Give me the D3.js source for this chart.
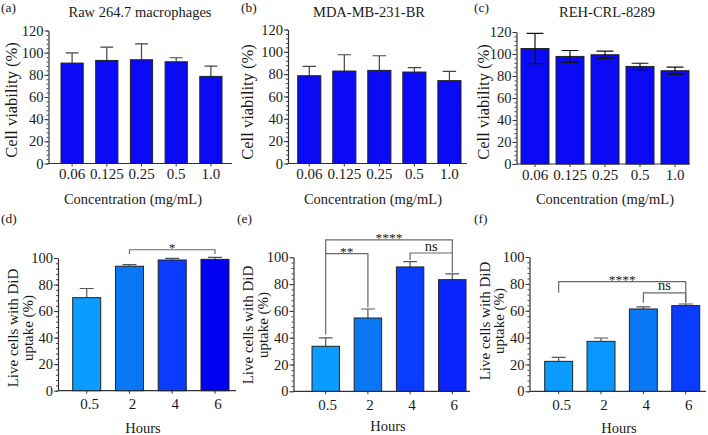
<!DOCTYPE html>
<html>
<head>
<meta charset="utf-8">
<script src="https://cdn.jsdelivr.net/npm/d3@7"></script>
<style>
  body { margin: 0; background: #fff; }
  text { font-family: "Liberation Serif", "DejaVu Serif", serif; fill: #1a1a1a; }
</style>
</head>
<body>
<svg id="chart" width="708" height="435"></svg>
<script>
// ---- data ----
const concLabels = ["0.06", "0.125", "0.25", "0.5", "1.0"];
const hourLabels = ["0.5", "2", "4", "6"];
const viabTicks = [0, 20, 40, 60, 80, 100, 120];
const uptakeTicks = [0, 20, 40, 60, 80, 100];

const rawMean = [90.6, 93, 93.6, 91.8, 78.6];
const rawErr = [9.3, 12, 14.4, 3.6, 9.3];
const mdaMean = [78.6, 82.8, 83.4, 81.9, 74.2];
const mdaErr = [8.4, 14.6, 13.1, 3.9, 8.3];
const rehMean = [105, 97.8, 99.3, 88.7, 84.8];
const rehErr = [13.8, 5.4, 3.4, 2.9, 3.3];

const dMean = [70.1, 93.8, 98.5, 99];
const dErr = [6.9, 1.2, 1.2, 1.5];
const eMean = [33.6, 54.7, 92.8, 83.3];
const eErr = [6.2, 6.7, 4, 4.3];
const fMean = [22.3, 37.2, 61.3, 63.8];
const fErr = [3, 2.5, 1.5, 1.2];

// significance brackets: from/to bar index, top value, leg end values, label
const dSig = [{ from: 1, to: 3, top: 106.2, l: 103, r: 103, label: "*" }];
const eSig = [
  { from: 0, to: 1, top: 102.7, l: 42.3, r: 62.7, label: "**" },
  { from: 0, to: 3, top: 113, l: 102.7, r: 103.2, label: "****" },
  { from: 2, to: 3, top: 103.2, l: 98, r: 88.5, label: "ns" }
];
const fSig = [
  { from: 0, to: 3, top: 81.7, l: 73.5, r: 66, label: "****" },
  { from: 2, to: 3, top: 73.3, l: 66, r: 66, label: "ns" }
];

const topBlue = "#0a0af5";
const dColors = ["#0a9cff", "#0a78f5", "#0a3cff", "#0000f0"];
const eColors = ["#0a9cff", "#0a78f5", "#0a3cff", "#0a24ff"];
const fColors = ["#0a9cff", "#0a96ff", "#0a78f5", "#0a3cff"];

const svg = d3.select("#chart");
const FONT = '"Liberation Serif", serif';

function drawPanel(p) {
  const g = svg.append("g");

  const x = d3.scaleBand()
    .domain(p.cats)
    .range([p.b0, p.b1])
    .paddingInner(p.pad)
    .paddingOuter(0);

  const y = d3.scaleLinear()
    .domain([0, p.yMax])
    .range([p.y0, p.yTop]);

  // minor ticks
  g.append("g")
    .attr("transform", `translate(${p.ax},0)`)
    .call(d3.axisLeft(y).tickValues(d3.range(0, p.yMax + 0.1, 4)).tickSize(2).tickSizeOuter(0).tickFormat(""))
    .call((a) => a.select(".domain").remove())
    .selectAll("line").attr("stroke", "#444");

  // y axis
  const yAxis = g.append("g")
    .attr("transform", `translate(${p.ax},0)`)
    .call(d3.axisLeft(y).tickValues(p.ticks).tickSize(4).tickSizeOuter(0).tickPadding(1));
  yAxis.select(".domain").attr("stroke", "#333").attr("stroke-width", 1.2);
  yAxis.selectAll("line").attr("stroke", "#333");
  yAxis.selectAll("text")
    .attr("font-size", 14.5)
    .style("font-family", FONT)
    .attr("fill", "#1a1a1a");

  // x axis
  g.append("line")
    .attr("x1", p.ax).attr("x2", p.axEnd)
    .attr("y1", p.y0).attr("y2", p.y0)
    .attr("stroke", "#333").attr("stroke-width", 1.2);

  const xAxis = g.append("g")
    .attr("transform", `translate(0,${p.y0})`)
    .call(d3.axisBottom(x).tickSize(3).tickSizeOuter(0).tickPadding(p.tickPad));
  xAxis.select(".domain").remove();
  xAxis.selectAll("line").attr("stroke", "#333");
  xAxis.selectAll("text")
    .attr("font-size", 15)
    .attr("dx", p.labelDx || 0)
    .style("font-family", FONT)
    .attr("fill", "#1a1a1a");

  // error bars (drawn under bars so the lower half hides for one-sided)
  const bw = x.bandwidth();
  const cap = bw * p.capFrac;
  const rows = p.cats.map((c, i) => ({ c, v: p.mean[i], e: p.err[i], col: p.colors[i] }));

  if (!p.twoSided) {
    g.selectAll(".eb").data(rows).enter().append("path")
      .attr("d", (d) => {
        const cx = x(d.c) + bw / 2;
        return `M${cx},${y(d.v)}V${y(d.v + d.e)}M${cx - cap / 2},${y(d.v + d.e)}H${cx + cap / 2}`;
      })
      .attr("stroke", p.errColor).attr("stroke-width", 1.2).attr("fill", "none");
  }

  g.selectAll(".bar").data(rows).enter().append("rect")
    .attr("x", (d) => x(d.c))
    .attr("y", (d) => y(d.v))
    .attr("width", bw)
    .attr("height", (d) => p.y0 - y(d.v))
    .attr("fill", (d) => d.col)
    .attr("stroke", "#222")
    .attr("stroke-width", 1);

  if (p.twoSided) {
    g.selectAll(".eb").data(rows).enter().append("path")
      .attr("d", (d) => {
        const cx = x(d.c) + bw / 2;
        const hi = y(d.v + d.e), lo = y(d.v - d.e);
        return `M${cx},${lo}V${hi}M${cx - cap / 2},${hi}H${cx + cap / 2}M${cx - cap / 2},${lo}H${cx + cap / 2}`;
      })
      .attr("stroke", p.errColor).attr("stroke-width", 1.2).attr("fill", "none");
  }

  // significance brackets
  (p.sig || []).forEach((s) => {
    const xl = x(p.cats[s.from]) + bw / 2;
    const xr = x(p.cats[s.to]) + bw / 2;
    g.append("path")
      .attr("d", `M${xl},${y(s.l)}V${y(s.top)}H${xr}V${y(s.r)}`)
      .attr("stroke", "#6a6a6a").attr("stroke-width", 1.2).attr("fill", "none");
    const isNs = s.label === "ns";
    g.append("text")
      .attr("x", (xl + xr) / 2)
      .attr("y", y(s.top) + (isNs ? -2.5 : 2.5))
      .attr("text-anchor", "middle")
      .attr("font-size", isNs ? 14.5 : 13.5)
      .attr("fill", "#555")
      .text(s.label);
  });

  // y label
  const yl = g.append("text")
    .attr("transform", `translate(${p.ylx},${p.yly}) rotate(-90)`)
    .attr("text-anchor", "middle")
    .attr("font-size", p.ylSize);
  p.yLabel.forEach((line, i) => {
    yl.append("tspan").attr("x", 0).attr("dy", i === 0 ? 5 : 14.5).text(line);
  });

  // x label
  g.append("text")
    .attr("x", p.xlx).attr("y", p.xly)
    .attr("text-anchor", "middle")
    .attr("font-size", 14.5)
    .text(p.xLabel);

  // title
  if (p.title) {
    g.append("text")
      .attr("x", p.tx).attr("y", 17)
      .attr("text-anchor", "middle")
      .attr("font-size", 14.5)
      .text(p.title);
  }

  // panel letter
  g.append("text")
    .attr("x", p.lx).attr("y", p.ly)
    .attr("font-size", 13.5)
    .text(p.letter);
}

const viabLabel = ["Cell viability (%)"];
const uptakeLabel = ["Live cells with DiD", "uptake (%)"];

drawPanel({
  cats: concLabels, mean: rawMean, err: rawErr, colors: concLabels.map(() => topBlue),
  yMax: 120, ticks: viabTicks, y0: 163.5, yTop: 30.5, ax: 48.5, axEnd: 232,
  b0: 61, b1: 222, pad: 0.36, capFrac: 0.58, tickPad: 2, errColor: "#444",
  ylx: 12, yly: 100, ylSize: 16.5, yLabel: viabLabel, xlx: 133, xly: 204, xLabel: "Concentration (mg/mL)",
  title: "Raw 264.7 macrophages", tx: 140, letter: "(a)", lx: 1, ly: 12
});
drawPanel({
  cats: concLabels, mean: mdaMean, err: mdaErr, colors: concLabels.map(() => topBlue),
  yMax: 120, ticks: viabTicks, y0: 163.5, yTop: 29.5, ax: 288, axEnd: 467,
  b0: 297.7, b1: 461, pad: 0.34, capFrac: 0.58, tickPad: 2, errColor: "#444",
  ylx: 248, yly: 102, ylSize: 16.5, yLabel: viabLabel, xlx: 373, xly: 204, xLabel: "Concentration (mg/mL)",
  title: "MDA-MB-231-BR", tx: 369, letter: "(b)", lx: 241, ly: 12
});
drawPanel({
  cats: concLabels, mean: rehMean, err: rehErr, colors: concLabels.map(() => topBlue),
  yMax: 120, ticks: viabTicks, y0: 164, yTop: 32, ax: 516.5, axEnd: 690,
  b0: 521, b1: 689, pad: 0.2, capFrac: 0.6, tickPad: 2, errColor: "#111", twoSided: true,
  ylx: 484, yly: 102, ylSize: 16.5, yLabel: viabLabel, xlx: 605, xly: 204, xLabel: "Concentration (mg/mL)",
  title: "REH-CRL-8289", tx: 607, letter: "(c)", lx: 474, ly: 12
});
drawPanel({
  cats: hourLabels, mean: dMean, err: dErr, colors: dColors,
  yMax: 100, ticks: uptakeTicks, y0: 390.7, yTop: 258, ax: 58, axEnd: 236,
  b0: 72.7, b1: 229, pad: 0.345, capFrac: 0.5, tickPad: 5, errColor: "#555", sig: dSig, labelDx: 3,
  ylx: 13, yly: 328, ylSize: 15, yLabel: uptakeLabel, xlx: 143, xly: 433, xLabel: "Hours",
  letter: "(d)", lx: 1, ly: 223
});
drawPanel({
  cats: hourLabels, mean: eMean, err: eErr, colors: eColors,
  yMax: 100, ticks: uptakeTicks, y0: 391.3, yTop: 257.3, ax: 293.5, axEnd: 470,
  b0: 312, b1: 466, pad: 0.35, capFrac: 0.5, tickPad: 5, errColor: "#555", sig: eSig, labelDx: 2,
  ylx: 248, yly: 325, ylSize: 15, yLabel: uptakeLabel, xlx: 388, xly: 431, xLabel: "Hours",
  letter: "(e)", lx: 237, ly: 223
});
drawPanel({
  cats: hourLabels, mean: fMean, err: fErr, colors: fColors,
  yMax: 100, ticks: uptakeTicks, y0: 391.3, yTop: 257, ax: 529.5, axEnd: 706,
  b0: 544.7, b1: 699.7, pad: 0.34, capFrac: 0.5, tickPad: 5, errColor: "#555", sig: fSig, labelDx: 3,
  ylx: 484.5, yly: 321, ylSize: 15, yLabel: uptakeLabel, xlx: 619, xly: 433, xLabel: "Hours",
  letter: "(f)", lx: 474, ly: 223
});
</script>
</body>
</html>
